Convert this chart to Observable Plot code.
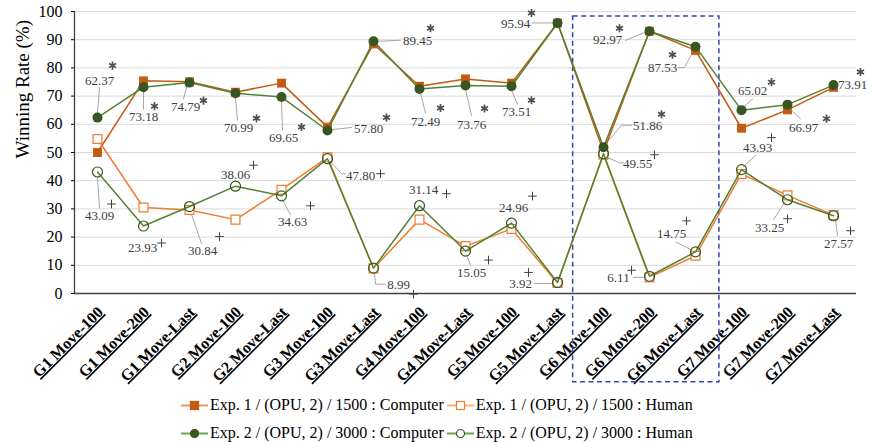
<!DOCTYPE html>
<html><head><meta charset="utf-8">
<script src="https://cdn.jsdelivr.net/npm/d3@7"></script>
<script src="https://cdn.jsdelivr.net/npm/@observablehq/plot@0.6"></script>
<style>
body{margin:0;background:#fff;font-family:"Liberation Serif","Times New Roman",Tinos,"DejaVu Serif",serif;}
#chart svg, #chart svg text{font-family:"Liberation Serif","Times New Roman",Tinos,"DejaVu Serif",serif !important;}
#chart svg [aria-label="x-axis tick label"] text{ text-decoration: underline; }
#legend{padding:3px 0 0 181px;display:grid;grid-template-columns:auto auto;justify-content:start;column-gap:3px;font-size:16px;line-height:28px;color:#000;}
#legend .item{display:flex;align-items:center;white-space:nowrap;}
#legend svg{margin-right:2px;}
</style></head><body>
<div id="chart"></div>
<div id="legend"></div>
<script>
const categories = ["G1 Move-100","G1 Move-200","G1 Move-Last","G2 Move-100","G2 Move-Last","G3 Move-100","G3 Move-Last","G4 Move-100","G4 Move-Last","G5 Move-100","G5 Move-Last","G6 Move-100","G6 Move-200","G6 Move-Last","G7 Move-100","G7 Move-200","G7 Move-Last"];
const exp1Computer = [50.0,75.4,75.1,71.4,74.6,59.0,88.5,73.5,76.1,74.6,95.9,50.3,93.0,86.2,58.6,65.1,73.1];
const exp1Human    = [54.8,30.5,29.6,26.2,36.8,48.3,8.9,26.2,16.8,22.9,3.7,49.2,5.7,13.4,42.4,34.8,27.8];
const exp2Computer = [62.37,73.18,74.79,70.99,69.65,57.80,89.45,72.49,73.76,73.51,95.94,51.86,92.97,87.53,65.02,66.97,73.91];
const exp2Human    = [43.09,23.93,30.84,38.06,34.63,47.80,8.99,31.14,15.05,24.96,3.92,49.55,6.11,14.75,43.93,33.25,27.57];
const seriesNames = ["Exp. 1 / (OPU, 2) / 1500 : Computer","Exp. 1 / (OPU, 2) / 1500 : Human","Exp. 2 / (OPU, 2) / 3000 : Computer","Exp. 2 / (OPU, 2) / 3000 : Human"];
const yTicks = [0,10,20,30,40,50,60,70,80,90,100];
const yLabel = "Winning Rate (%)";
const highlight = ["G6 Move-100","G6 Move-Last"];

// label layout (pixel offsets from the data point): text, marker, leader polyline
const compLayout = [
 [[2,-37],[15,-52],[[0,-5],[2,-30]]],
 [[0,30],[11,19],[[0,4],[0,22]]],
 [[-4,24],[14,18],[[-3,5],[-6,16]]],
 [[3,35],[21,25],[[0,4],[2,27]]],
 [[2,41],[20,30],[[0,4],[1,33]]],
 [[41,-2],[59,-13],[[5,-1],[24,-3]]],
 [[44,0],[57,-13],[[6,0],[27,-1]]],
 [[6,33],[21,19],[[1,4],[6,24]]],
 [[6,39],[19,23],[[0,4],[6,30]]],
 [[5,26],[20,14],[[0,4],[6,18]]],
 [[-42,1],[-26,-10],[[-25,0],[-4,0]]],
 [[44,-21],[58,-33],[[2,-3],[18,-22],[28,-22]]],
 [[-42,9],[-30,-3],[[-24,9],[-4,1]]],
 [[-33,21],[-23,8],[[-17,21],[-11,21],[-2,4]]],
 [[11,-19],[30,-28],[[2,-3],[11,-11]]],
 [[16,23],[39,14],[[1,3],[13,14]]],
 [[19,0],[27,-13],null]
];
const humanLayout = [
 [[2,44],[14,32],[[0,5],[2,36]]],
 [[-1,22],[18,17],null],
 [[13,44],[30,30],[[1,5],[12,37]]],
 [[0,-11],[18,-21],null],
 [[11,26],[29,10],[[1,4],[9,19]]],
 [[33,17],[53,15],[[3,3],[14,15],[18,15]]],
 [[25,17],[40,26],[[1,5],[2,16],[12,16]]],
 [[4,-16],[27,-12],null],
 [[6,22],[23,9],[[1,4],[5,14]]],
 [[2,-15],[21,-27],null],
 [[-37,1],[-29,-10],[[-23,1],[-5,1]]],
 [[34,10],[51,1],[[2,3],[16,9],[20,9]]],
 [[-31,2],[-18,-6],[[-16,1],[-5,1]]],
 [[-24,-18],[-9,-31],[[-20,-10],[-4,-2]]],
 [[16,-22],[30,-32],[[2,-3],[14,-14]]],
 [[-18,28],[0,19],[[-3,3],[-14,20]]],
 [[5,28],[17,15],[[2,4],[4,20]]]
];

const W = 872, H = 388, ML = 74, MR = 16, MT = 11, MB = 95;
const kx = (W - ML - MR) / categories.length;
const ky = (H - MT - MB) / 100;
const idx = categories.map((_, i) => i);

function pts(values) { return values.map((v, i) => ({x: i, y: v})); }
function labels(values, layout) {
  const text = [], marks = [], leaders = [];
  values.forEach((v, i) => {
    const [t, m, L] = layout[i];
    text.push({x: i + t[0] / kx, y: v - t[1] / ky, t: v.toFixed(2)});
    marks.push({x: i + m[0] / kx, y: v - m[1] / ky});
    if (L) L.forEach(p => leaders.push({x: i + p[0] / kx, y: v - p[1] / ky, id: i}));
  });
  return {text, marks, leaders};
}
const cl = labels(exp2Computer, compLayout);
const hl = labels(exp2Human, humanLayout);
const h0 = categories.indexOf(highlight[0]), h1 = categories.indexOf(highlight[1]);

const C1 = "#c55a11", C1L = "#c55a11", H1 = "#ed7d31", C2 = "#375623", C2L = "#548235", H2 = "#548235";
const FONT = '"Liberation Serif","Times New Roman",Tinos,"DejaVu Serif",serif';

const chart = Plot.plot({
  width: W, height: H,
  marginLeft: ML, marginRight: MR, marginTop: MT, marginBottom: MB,
  style: {fontFamily: FONT, background: "white", color: "#000", overflow: "visible"},
  x: {type: "linear", domain: [-0.5, categories.length - 0.5]},
  y: {domain: [0, 100]},
  marks: [
    Plot.gridY(yTicks, {stroke: "#d9d9d9", strokeOpacity: 1}),
    Plot.ruleY([0], {stroke: "#404040", strokeWidth: 1.3}),
    Plot.ruleX([-0.5], {y1: 0, y2: 100, stroke: "#404040", strokeWidth: 1.3}),
    Plot.axisY({ticks: yTicks, tickSize: 3, tickPadding: 9, fontSize: 16, label: null}),
    Plot.axisX({ticks: idx, tickFormat: i => categories[i], tickRotate: -45, tickSize: 0, tickPadding: 4, dx: 3, dy: 12, fontSize: 16, fontWeight: "bold", label: null}),
    Plot.text([yLabel], {frameAnchor: "left", rotate: -90, dx: -52, dy: 6, fontSize: 19}),
    Plot.rect([0], {x1: h0 - 0.66, x2: h1 + 0.52, y1: -31.5, y2: 98.2, fill: "none", stroke: "#3344bb", strokeWidth: 1.5, strokeDasharray: "5,3.5"}),
    Plot.line([...cl.leaders, ...hl.leaders.map(d => ({...d, id: d.id + 100}))], {x: "x", y: "y", z: "id", stroke: "#a6a6a6", strokeWidth: 1}),
    Plot.line(pts(exp1Computer), {x: "x", y: "y", stroke: C1L, strokeWidth: 1.5}),
    Plot.dot(pts(exp1Computer), {x: "x", y: "y", symbol: "square", r: 5, fill: C1}),
    Plot.line(pts(exp1Human), {x: "x", y: "y", stroke: H1, strokeWidth: 1.5}),
    Plot.dot(pts(exp1Human), {x: "x", y: "y", symbol: "square", r: 5, fill: "white", stroke: H1, strokeWidth: 1.2}),
    Plot.line(pts(exp2Computer), {x: "x", y: "y", stroke: C2L, strokeWidth: 1.5}),
    Plot.dot(pts(exp2Computer), {x: "x", y: "y", symbol: "circle", r: 5, fill: C2}),
    Plot.line(pts(exp2Human), {x: "x", y: "y", stroke: H2, strokeWidth: 1.5}),
    Plot.dot(pts(exp2Human), {x: "x", y: "y", symbol: "circle", r: 5, fill: "white", fillOpacity: 0, stroke: C2, strokeWidth: 1.2}),
    Plot.text(cl.text, {x: "x", y: "y", text: "t", fontSize: 13, fill: "#404040"}),
    Plot.text(hl.text, {x: "x", y: "y", text: "t", fontSize: 13, fill: "#404040"}),
    Plot.dot(cl.marks, {x: "x", y: "y", symbol: "asterisk", r: 3.8, stroke: "#505050", strokeWidth: 1.7}),
    Plot.dot(hl.marks, {x: "x", y: "y", symbol: "plus", r: 2.9, stroke: "#404040", strokeWidth: 1})
  ]
});
document.getElementById("chart").appendChild(chart);

// legend
const swatches = [
  {line: "#e59866", sym: "square", fill: C1, stroke: C1},
  {line: "#f4b183", sym: "square", fill: "white", stroke: H1},
  {line: "#70a050", sym: "circle", fill: C2, stroke: C2},
  {line: "#70a050", sym: "circle", fill: "white", stroke: C2}
];
const leg = document.getElementById("legend");
seriesNames.forEach((name, k) => {
  const s = swatches[k];
  const item = document.createElement("div");
  item.className = "item";
  const shape = s.sym === "square"
    ? `<rect x="9.5" y="3.5" width="8" height="8" fill="${s.fill}" stroke="${s.stroke}" stroke-width="1.2"/>`
    : `<circle cx="13.5" cy="7.5" r="4" fill="${s.fill}" stroke="${s.stroke}" stroke-width="1.2"/>`;
  item.innerHTML = `<svg width="27" height="15"><line x1="0" x2="27" y1="7.5" y2="7.5" stroke="${s.line}" stroke-width="2"/>${shape}</svg><span>${name}</span>`;
  leg.appendChild(item);
});
</script>
</body></html>
